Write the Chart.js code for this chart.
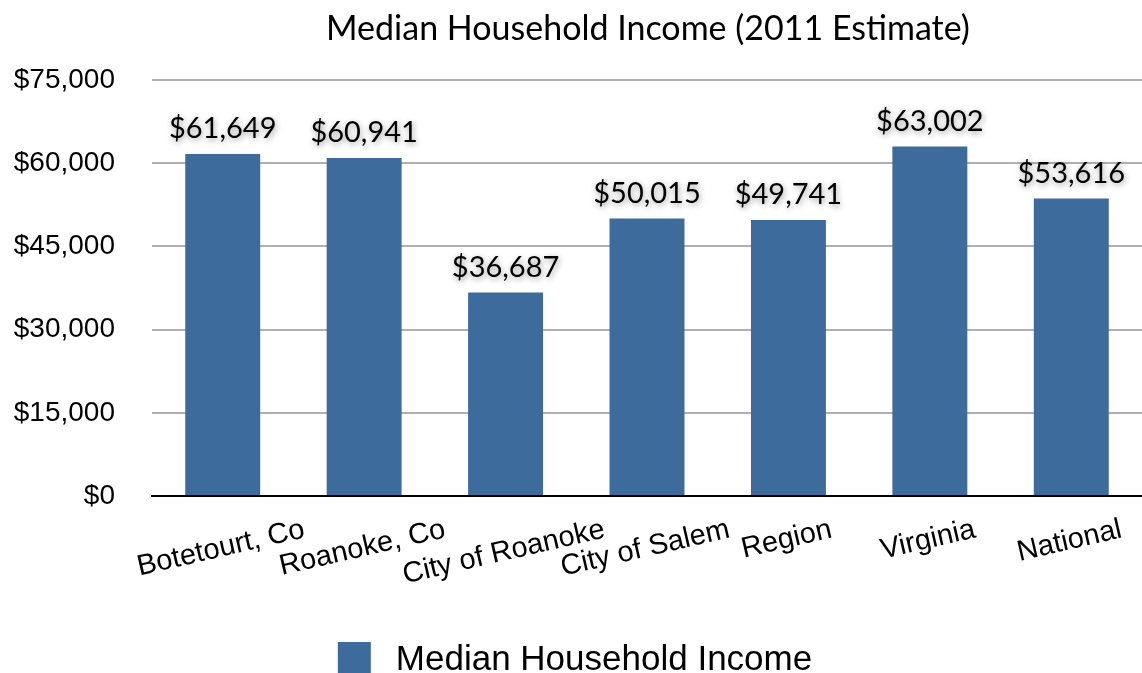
<!DOCTYPE html>
<html>
<head>
<meta charset="utf-8">
<script src="https://cdn.jsdelivr.net/npm/chart.js@4.4.0/dist/chart.umd.min.js"></script>
<style>
  html, body { margin: 0; padding: 0; background: #fff; }
  #wrap { width: 1142px; height: 673px; }
</style>
</head>
<body>
<div id="wrap"><canvas id="chart" width="1142" height="673"></canvas></div>
<script>
// values
const categories = ['Botetourt, Co', 'Roanoke, Co', 'City of Roanoke', 'City of Salem', 'Region', 'Virginia', 'National'];
const incomes = [61649, 60941, 36687, 50015, 49741, 63002, 53616];
const seriesName = 'Median Household Income';
const chartTitle = 'Median Household Income (2011 Estimate)';

const barColor = '#3d6b9b';
const money = (v) => '$' + v.toLocaleString('en-US');

// title is centred over the plot, not the canvas
const plotTitle = {
  id: 'plotTitle',
  afterDraw(chart) {
    const { ctx, chartArea } = chart;
    ctx.save();
    ctx.font = '34px Lato';
    ctx.fillStyle = '#000';
    ctx.textAlign = 'center';
    ctx.textBaseline = 'alphabetic';
    ctx.fillText(chartTitle, (chartArea.left + chartArea.right) / 2 + 1, 40);
    ctx.restore();
  },
};

// value labels above bars, soft shadow like the original
const valueLabels = {
  id: 'valueLabels',
  afterDatasetsDraw(chart) {
    const { ctx } = chart;
    const meta = chart.getDatasetMeta(0);
    ctx.save();
    ctx.font = '29px Lato';
    ctx.fillStyle = '#000';
    ctx.textAlign = 'center';
    ctx.textBaseline = 'alphabetic';
    ctx.shadowColor = 'rgba(0,0,0,0.4)';
    ctx.shadowBlur = 6;
    ctx.shadowOffsetX = 1;
    ctx.shadowOffsetY = 2;
    meta.data.forEach((bar, i) => {
      ctx.fillText(money(incomes[i]), bar.x, bar.y - 16);
    });
    ctx.restore();
  },
};

// slanted category labels: centred on the tick, right end kept at one height
const slantedLabels = {
  id: 'slantedLabels',
  afterDraw(chart) {
    const { ctx } = chart;
    const x = chart.scales.x;
    const rightBase = chart.chartArea.bottom + 41;
    const ang = 13 * Math.PI / 180;
    ctx.save();
    ctx.font = '29px "Liberation Sans"';
    ctx.fillStyle = '#000';
    ctx.textAlign = 'center';
    ctx.textBaseline = 'alphabetic';
    categories.forEach((label, i) => {
      const w = ctx.measureText(label).width;
      ctx.save();
      ctx.translate(x.getPixelForTick(i), rightBase + (w / 2) * Math.sin(ang));
      ctx.rotate(-ang);
      ctx.fillText(label, 0, 0);
      ctx.restore();
    });
    ctx.restore();
  },
};

// legend at the very bottom
const bottomLegend = {
  id: 'bottomLegend',
  afterDraw(chart) {
    const { ctx } = chart;
    ctx.save();
    ctx.font = '35px "Liberation Sans"';
    const tw = ctx.measureText(seriesName).width;
    const box = 33, gap = 25;
    const left = (chart.width - (box + gap + tw)) / 2 + 4;
    ctx.fillStyle = barColor;
    ctx.fillRect(left, 642, box, box);
    ctx.fillStyle = '#000';
    ctx.textBaseline = 'alphabetic';
    ctx.fillText(seriesName, left + box + gap, 670);
    ctx.restore();
  },
};

new Chart(document.getElementById('chart'), {
  type: 'bar',
  data: {
    labels: categories,
    datasets: [{
      label: seriesName,
      data: incomes,
      backgroundColor: barColor,
      categoryPercentage: 1,
      barPercentage: 0.53,
    }],
  },
  options: {
    responsive: false,
    animation: false,
    layout: { padding: { left: 0, right: 0, top: 80, bottom: 0 } },
    plugins: {
      legend: { display: false },
      tooltip: { enabled: false },
      title: { display: false },
    },
    scales: {
      x: {
        grid: { display: false },
        border: { display: true, color: '#000', width: 2 },
        ticks: { display: false },
        afterFit(scale) { scale.height = 177; },
      },
      y: {
        min: 0,
        max: 75000,
        ticks: {
          stepSize: 15000,
          color: '#000',
          padding: 37,
          font: { family: 'Liberation Sans', size: 28 },
          callback: (v) => money(v),
        },
        grid: {
          drawTicks: false,
          lineWidth: 2,
          color: (c) => (c.tick && c.tick.value === 0 ? '#000' : '#b0b0b0'),
        },
        border: { display: false },
        afterFit(scale) { scale.width = 152; },
      },
    },
  },
  plugins: [valueLabels, slantedLabels, bottomLegend, plotTitle],
});
</script>
</body>
</html>
